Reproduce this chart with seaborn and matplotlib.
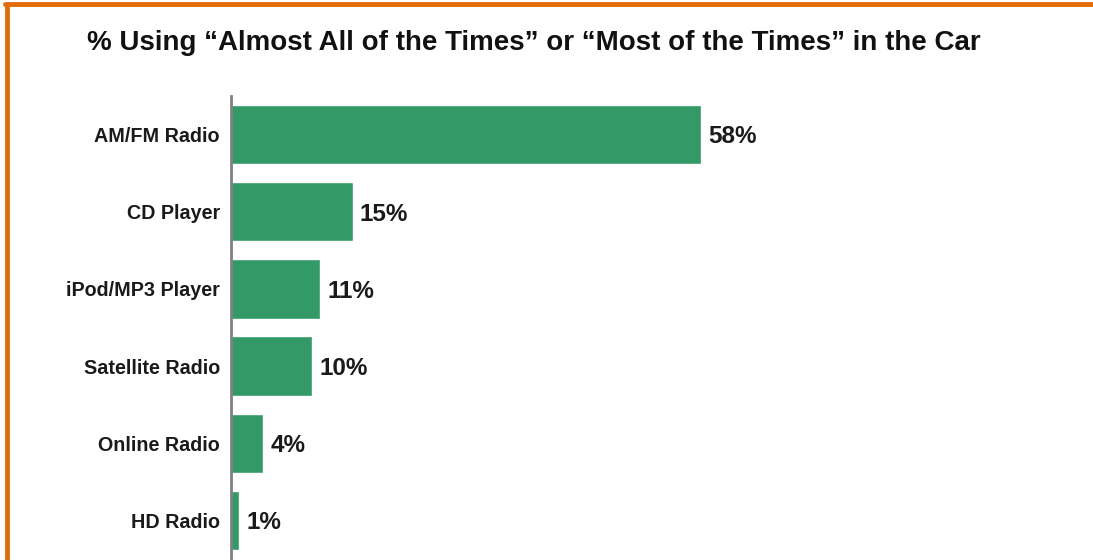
import matplotlib
matplotlib.use("Agg")
import matplotlib.pyplot as plt
import seaborn as sns
import pandas as pd
from matplotlib.lines import Line2D

categories = ["AM/FM Radio", "CD Player", "iPod/MP3 Player", "Satellite Radio", "Online Radio", "HD Radio"]
values = [58, 15, 11, 10, 4, 1]
value_labels = ["58%", "15%", "11%", "10%", "4%", "1%"]

df = pd.DataFrame({"device": categories, "pct": values})

sns.set_style("white")
plt.rcParams["font.family"] = ["Liberation Sans", "DejaVu Sans"]

fig = plt.figure(figsize=(10.93, 5.6), dpi=100)
W, H = 1093, 560
ax = fig.add_axes([231 / W, 1 / H, 810 / W, 463 / H])

sns.barplot(data=df, x="pct", y="device", order=categories, color="#339966",
            width=0.77, saturation=1, ax=ax)

ax.set_xlim(0, 100)
ax.set_ylim(5.5, -0.5)
ax.set_xlabel("")
ax.set_ylabel("")
ax.set_xticks([])
for s in ["top", "right", "bottom"]:
    ax.spines[s].set_visible(False)
ax.spines["left"].set_color("#808080")
ax.spines["left"].set_linewidth(2)
ax.tick_params(axis="y", length=0, pad=8)
for lbl in ax.get_yticklabels():
    lbl.set_fontweight("bold")
    lbl.set_fontsize(14.2)
    lbl.set_color("#1a1a1a")

for i, (v, t) in enumerate(zip(values, value_labels)):
    ax.text(v + 0.9, i + 0.03, t, va="center", ha="left", fontsize=17.5,
            fontweight="bold", color="#1a1a1a")

fig.text(534 / W, 1 - 43 / H, "% Using \u201cAlmost All of the Times\u201d or \u201cMost of the Times\u201d in the Car",
         ha="center", va="center", fontsize=20, fontweight="bold", color="#111111")

# orange frame on top and left
orange = "#E36C0A"
fig.add_artist(Line2D([5 / W, 1], [1 - 4 / H, 1 - 4 / H], transform=fig.transFigure,
                      color=orange, linewidth=3.5))
fig.add_artist(Line2D([7 / W, 7 / W], [0, 1 - 4 / H], transform=fig.transFigure,
                      color=orange, linewidth=3.5))

fig.savefig("out.png", dpi=100, facecolor="white")
